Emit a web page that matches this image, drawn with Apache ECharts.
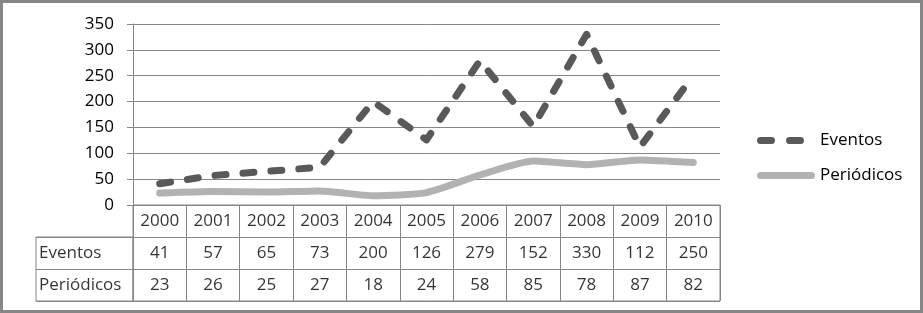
<!DOCTYPE html>
<html>
<head>
<meta charset="utf-8">
<script src="https://cdn.jsdelivr.net/npm/echarts@6/dist/echarts.min.js"></script>
<style>
html,body{margin:0;padding:0;background:#fff;}
#chart{position:absolute;left:0;top:0;width:923px;height:313px;}
#frame{position:absolute;left:0;top:0;width:923px;height:313px;box-sizing:border-box;border:3px solid #868686;pointer-events:none;}
</style>
</head>
<body>
<div id="chart"></div>
<div id="frame"></div>
<script>
const years = ['2000','2001','2002','2003','2004','2005','2006','2007','2008','2009','2010'];
const eventos = [41, 57, 65, 73, 200, 126, 279, 152, 330, 112, 250];
const periodicos = [23, 26, 25, 27, 18, 24, 58, 85, 78, 87, 82];
const seriesNames = ['Eventos', 'Periódicos'];
const yTicks = [0, 50, 100, 150, 200, 250, 300, 350];

const FONT = 'Open Sans';
const FS = 17;
const GRID_C = '#868686';

const rowKeys = ['year', seriesNames[0], seriesNames[1]];
const tableCells = [];
years.forEach((y, i) => {
  tableCells.push([i, 'year', y]);
  tableCells.push([i, seriesNames[0], String(eventos[i])]);
  tableCells.push([i, seriesNames[1], String(periodicos[i])]);
});
const headCells = seriesNames.map(n => [0, n, n]);

// legend icons (58 x 7 box): two dashes for Eventos, one bar for Periódicos
const pill = (x0, x1) => `M${x0 + 3.5},0 L${x1 - 3.5},0 A3.5,3.5 0 0 1 ${x1 - 3.5},7 L${x0 + 3.5},7 A3.5,3.5 0 0 1 ${x0 + 3.5},0 Z`;
const iconEventos = 'path://' + pill(0, 18) + ' ' + pill(29, 47) + ' M58,3.5 L58,3.5 Z';
const iconPeriodicos = 'path://' + pill(0, 58);

const chart = echarts.init(document.getElementById('chart'));
chart.setOption({
  animation: false,
  textStyle: {fontFamily: FONT, fontSize: FS, color: '#000'},
  grid: [
    {left: 133, top: 24, width: 587, height: 181},
    {left: 133, top: 205, width: 587, height: 96, show: true, borderColor: GRID_C, borderWidth: 1},
    {left: 36, top: 237, width: 97, height: 64, show: true, borderColor: GRID_C, borderWidth: 1}
  ],
  xAxis: [
    {gridIndex: 0, type: 'category', data: years, boundaryGap: true,
     axisLine: {show: true, lineStyle: {color: GRID_C, width: 1}},
     axisTick: {show: false}, axisLabel: {show: false}, splitLine: {show: false}},
    {gridIndex: 1, type: 'category', data: years, boundaryGap: true,
     axisLine: {show: false}, axisTick: {show: false}, axisLabel: {show: false},
     splitLine: {show: true, interval: 0, lineStyle: {color: GRID_C, width: 1}}},
    {gridIndex: 2, type: 'value', min: 0, max: 1, show: false}
  ],
  yAxis: [
    {gridIndex: 0, type: 'value', min: 0, max: 350, interval: 50,
     axisLine: {show: true, lineStyle: {color: GRID_C, width: 1}},
     axisTick: {show: true, length: 6, lineStyle: {color: GRID_C}},
     axisLabel: {show: true, margin: 19, color: '#000', fontFamily: FONT, fontSize: FS,
       formatter: v => yTicks.includes(v) ? String(v) : ''},
     splitLine: {show: true, lineStyle: {color: GRID_C, width: 1}}},
    {gridIndex: 1, type: 'category', data: rowKeys, inverse: true,
     axisLine: {show: false}, axisTick: {show: false}, axisLabel: {show: false},
     splitLine: {show: true, interval: 0, lineStyle: {color: GRID_C, width: 1}}},
    {gridIndex: 2, type: 'category', data: seriesNames, inverse: true,
     axisLine: {show: false}, axisTick: {show: false}, axisLabel: {show: false},
     splitLine: {show: true, interval: 0, lineStyle: {color: GRID_C, width: 1}}}
  ],
  legend: {
    orient: 'vertical', left: 752, top: 127, itemGap: 18,
    itemWidth: 58, itemHeight: 7, symbolKeepAspect: false,
    textStyle: {fontFamily: FONT, fontSize: FS, color: '#000', padding: [0, 0, 0, 0]},
    data: [
      {name: seriesNames[0], icon: iconEventos, itemStyle: {color: '#595959', borderWidth: 0}},
      {name: seriesNames[1], icon: iconPeriodicos, itemStyle: {color: '#b2b2b2', borderWidth: 0}}
    ]
  },
  series: [
    {name: seriesNames[0], type: 'line', xAxisIndex: 0, yAxisIndex: 0, data: eventos,
     symbol: 'none', z: 3,
     lineStyle: {color: '#595959', width: 7, type: [11, 17], cap: 'round', join: 'round'},
     itemStyle: {color: '#595959'}},
    {name: seriesNames[1], type: 'line', xAxisIndex: 0, yAxisIndex: 0, data: periodicos,
     symbol: 'none', smooth: 0.2, z: 2,
     lineStyle: {color: '#b2b2b2', width: 7, cap: 'round', join: 'round'},
     itemStyle: {color: '#b2b2b2'}},
    {type: 'scatter', xAxisIndex: 1, yAxisIndex: 1, symbolSize: 0, data: tableCells,
     label: {show: true, position: 'inside', color: '#000', fontFamily: FONT, fontSize: FS,
       formatter: p => p.value[2]}, silent: true},
    {type: 'scatter', xAxisIndex: 2, yAxisIndex: 2, symbolSize: 0, data: headCells,
     label: {show: true, position: 'right', distance: 3, color: '#000', fontFamily: FONT, fontSize: FS,
       formatter: p => p.value[2]}, silent: true}
  ]
});
</script>
</body>
</html>
